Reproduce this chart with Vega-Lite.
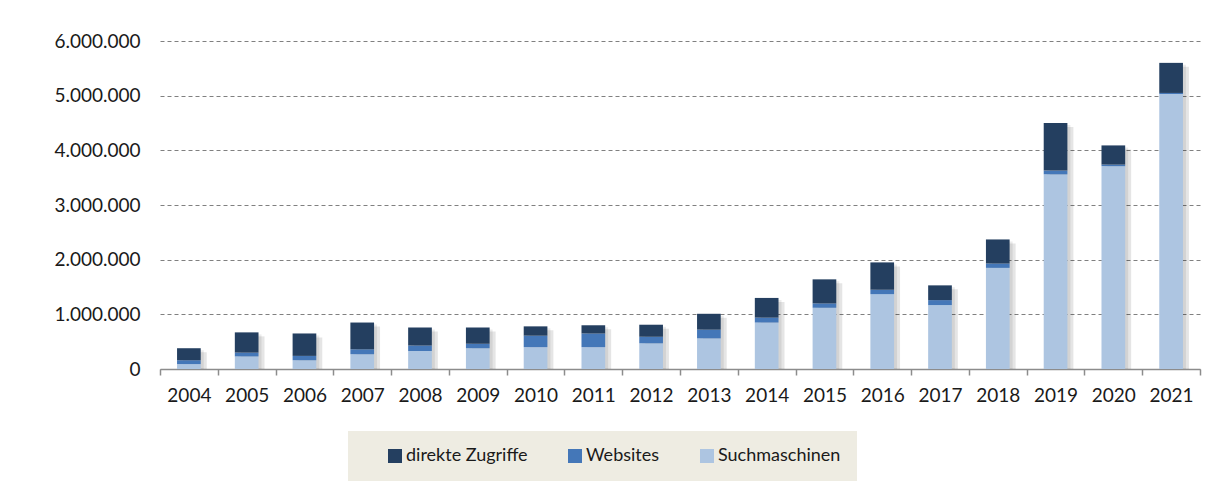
{
  "$schema": "https://vega.github.io/schema/vega-lite/v6.json",
  "width": 1040,
  "height": 328,
  "autosize": {"type": "none"},
  "padding": {"left": 160, "top": 41, "right": 9, "bottom": 124},
  "background": "white",
  "config": {
    "view": {"stroke": null},
    "font": "Lato",
    "locale": {"number": {"decimal": ",", "thousands": ".", "grouping": [3], "currency": ["", " €"]}}
  },
  "data": {"values": [
    {"Jahr": "2004", "Quelle": "Suchmaschinen", "o": 1, "Wert": 90000},
    {"Jahr": "2004", "Quelle": "Websites", "o": 2, "Wert": 70000},
    {"Jahr": "2004", "Quelle": "direkte Zugriffe", "o": 3, "Wert": 220000},
    {"Jahr": "2005", "Quelle": "Suchmaschinen", "o": 1, "Wert": 230000},
    {"Jahr": "2005", "Quelle": "Websites", "o": 2, "Wert": 70000},
    {"Jahr": "2005", "Quelle": "direkte Zugriffe", "o": 3, "Wert": 370000},
    {"Jahr": "2006", "Quelle": "Suchmaschinen", "o": 1, "Wert": 160000},
    {"Jahr": "2006", "Quelle": "Websites", "o": 2, "Wert": 80000},
    {"Jahr": "2006", "Quelle": "direkte Zugriffe", "o": 3, "Wert": 410000},
    {"Jahr": "2007", "Quelle": "Suchmaschinen", "o": 1, "Wert": 270000},
    {"Jahr": "2007", "Quelle": "Websites", "o": 2, "Wert": 90000},
    {"Jahr": "2007", "Quelle": "direkte Zugriffe", "o": 3, "Wert": 490000},
    {"Jahr": "2008", "Quelle": "Suchmaschinen", "o": 1, "Wert": 330000},
    {"Jahr": "2008", "Quelle": "Websites", "o": 2, "Wert": 100000},
    {"Jahr": "2008", "Quelle": "direkte Zugriffe", "o": 3, "Wert": 330000},
    {"Jahr": "2009", "Quelle": "Suchmaschinen", "o": 1, "Wert": 380000},
    {"Jahr": "2009", "Quelle": "Websites", "o": 2, "Wert": 80000},
    {"Jahr": "2009", "Quelle": "direkte Zugriffe", "o": 3, "Wert": 300000},
    {"Jahr": "2010", "Quelle": "Suchmaschinen", "o": 1, "Wert": 400000},
    {"Jahr": "2010", "Quelle": "Websites", "o": 2, "Wert": 210000},
    {"Jahr": "2010", "Quelle": "direkte Zugriffe", "o": 3, "Wert": 170000},
    {"Jahr": "2011", "Quelle": "Suchmaschinen", "o": 1, "Wert": 400000},
    {"Jahr": "2011", "Quelle": "Websites", "o": 2, "Wert": 250000},
    {"Jahr": "2011", "Quelle": "direkte Zugriffe", "o": 3, "Wert": 150000},
    {"Jahr": "2012", "Quelle": "Suchmaschinen", "o": 1, "Wert": 470000},
    {"Jahr": "2012", "Quelle": "Websites", "o": 2, "Wert": 120000},
    {"Jahr": "2012", "Quelle": "direkte Zugriffe", "o": 3, "Wert": 220000},
    {"Jahr": "2013", "Quelle": "Suchmaschinen", "o": 1, "Wert": 560000},
    {"Jahr": "2013", "Quelle": "Websites", "o": 2, "Wert": 160000},
    {"Jahr": "2013", "Quelle": "direkte Zugriffe", "o": 3, "Wert": 290000},
    {"Jahr": "2014", "Quelle": "Suchmaschinen", "o": 1, "Wert": 850000},
    {"Jahr": "2014", "Quelle": "Websites", "o": 2, "Wert": 90000},
    {"Jahr": "2014", "Quelle": "direkte Zugriffe", "o": 3, "Wert": 360000},
    {"Jahr": "2015", "Quelle": "Suchmaschinen", "o": 1, "Wert": 1120000},
    {"Jahr": "2015", "Quelle": "Websites", "o": 2, "Wert": 80000},
    {"Jahr": "2015", "Quelle": "direkte Zugriffe", "o": 3, "Wert": 440000},
    {"Jahr": "2016", "Quelle": "Suchmaschinen", "o": 1, "Wert": 1370000},
    {"Jahr": "2016", "Quelle": "Websites", "o": 2, "Wert": 80000},
    {"Jahr": "2016", "Quelle": "direkte Zugriffe", "o": 3, "Wert": 500000},
    {"Jahr": "2017", "Quelle": "Suchmaschinen", "o": 1, "Wert": 1170000},
    {"Jahr": "2017", "Quelle": "Websites", "o": 2, "Wert": 90000},
    {"Jahr": "2017", "Quelle": "direkte Zugriffe", "o": 3, "Wert": 270000},
    {"Jahr": "2018", "Quelle": "Suchmaschinen", "o": 1, "Wert": 1850000},
    {"Jahr": "2018", "Quelle": "Websites", "o": 2, "Wert": 80000},
    {"Jahr": "2018", "Quelle": "direkte Zugriffe", "o": 3, "Wert": 440000},
    {"Jahr": "2019", "Quelle": "Suchmaschinen", "o": 1, "Wert": 3560000},
    {"Jahr": "2019", "Quelle": "Websites", "o": 2, "Wert": 70000},
    {"Jahr": "2019", "Quelle": "direkte Zugriffe", "o": 3, "Wert": 870000},
    {"Jahr": "2020", "Quelle": "Suchmaschinen", "o": 1, "Wert": 3710000},
    {"Jahr": "2020", "Quelle": "Websites", "o": 2, "Wert": 30000},
    {"Jahr": "2020", "Quelle": "direkte Zugriffe", "o": 3, "Wert": 350000},
    {"Jahr": "2021", "Quelle": "Suchmaschinen", "o": 1, "Wert": 5030000},
    {"Jahr": "2021", "Quelle": "Websites", "o": 2, "Wert": 20000},
    {"Jahr": "2021", "Quelle": "direkte Zugriffe", "o": 3, "Wert": 550000}
  ]},
  "layer": [
    {
      "mark": {"type": "bar", "width": {"band": 0.41}, "color": "#000000", "opacity": 0.08, "xOffset": 3, "yOffset": 2, "y2Offset": 6},
      "encoding": {
        "x": {"field": "Jahr", "type": "ordinal", "scale": {"paddingInner": 0, "paddingOuter": 0}},
        "y": {"aggregate": "sum", "field": "Wert", "type": "quantitative"}
      }
    },
    {
      "mark": {"type": "bar", "width": {"band": 0.41}, "color": "#000000", "opacity": 0.1, "xOffset": 6, "yOffset": 4, "y2Offset": 4},
      "encoding": {
        "x": {"field": "Jahr", "type": "ordinal", "scale": {"paddingInner": 0, "paddingOuter": 0}},
        "y": {"aggregate": "sum", "field": "Wert", "type": "quantitative"}
      }
    },
    {
      "mark": {"type": "bar", "width": {"band": 0.41}},
      "encoding": {
        "x": {
          "field": "Jahr", "type": "ordinal",
          "scale": {"paddingInner": 0, "paddingOuter": 0},
          "axis": {
            "title": null, "labelAngle": 0, "labelAlign": "center", "labelOffset": 0, "labelFont": "Lato", "labelFontSize": 19, "labelColor": "#1a1a1a",
            "labelPadding": 20, "tickBand": "extent", "tickSize": 6, "tickColor": "#8c8c8c", "tickWidth": 1.5,
            "domainColor": "#8c8c8c", "domainWidth": 1.5, "grid": false
          }
        },
        "y": {
          "field": "Wert", "type": "quantitative", "stack": "zero",
          "scale": {"domain": [0, 6000000], "nice": false},
          "axis": {
            "title": null, "values": [0, 1000000, 2000000, 3000000, 4000000, 5000000, 6000000],
            "format": ",d", "labelFont": "Lato", "labelFontSize": 19, "labelColor": "#1a1a1a",
            "labelPadding": 20, "ticks": false, "domain": false,
            "grid": true, "gridColor": "#808080", "gridDash": [4, 3], "gridWidth": 1
          }
        },
        "color": {
          "field": "Quelle", "type": "nominal",
          "scale": {"domain": ["direkte Zugriffe", "Websites", "Suchmaschinen"], "range": ["#243F60", "#4477B8", "#ADC5E1"]},
          "legend": {
            "orient": "none", "legendX": 188, "legendY": 390, "direction": "horizontal",
            "title": " ", "titleOrient": "left", "titlePadding": 22,
            "fillColor": "#EEECE2", "padding": 16,
            "symbolType": "square", "symbolSize": 196, "symbolStrokeWidth": 0, "symbolOpacity": 1,
            "labelFont": "Lato", "labelFontSize": 18, "labelColor": "#1a1a1a", "labelOffset": 2,
            "columnPadding": 38,
            "labelExpr": "datum.label == 'Suchmaschinen' ? 'Suchmaschinen     ' : datum.label"
          }
        },
        "order": {"field": "o", "type": "quantitative"}
      }
    }
  ]
}
